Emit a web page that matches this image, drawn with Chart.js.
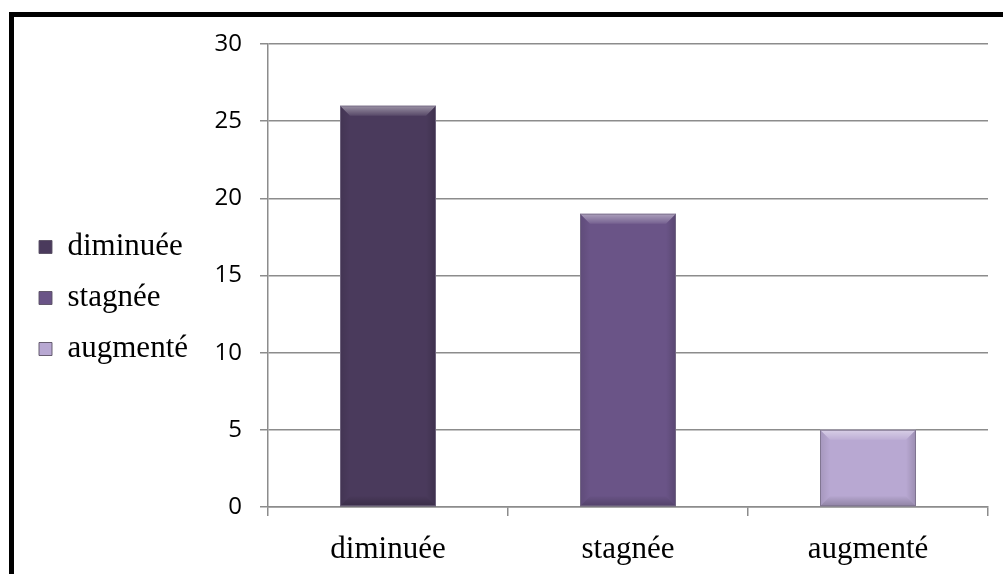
<!DOCTYPE html>
<html>
<head>
<meta charset="utf-8">
<script src="https://cdn.jsdelivr.net/npm/chart.js@4.4.1/dist/chart.umd.min.js"></script>
<style>
  html, body { margin: 0; padding: 0; background: #ffffff; }
  #wrap { position: relative; width: 1003px; height: 574px; overflow: hidden; }
  #frame { position: absolute; left: 9px; top: 12px; width: 1100px; height: 700px;
           border-left: 5px solid #000; border-top: 5px solid #000; box-sizing: border-box; }
  #chart { position: absolute; left: 0; top: 0; }
</style>
</head>
<body>
<div id="wrap">
  <div id="frame"></div>
  <canvas id="chart" width="1003" height="574"></canvas>
</div>
<script>
const categories = ['diminuée', 'stagnée', 'augmenté'];
const counts = [26, 19, 5];
const barColors = ['#4a3a5c', '#6a5487', '#b8a8d2'];
const yTicks = [0, 5, 10, 15, 20, 25, 30];

// soft bevelled faces on every bar
const bevelPlugin = {
  id: 'bevel',
  afterDatasetsDraw(chart) {
    const ctx = chart.ctx;
    const meta = chart.getDatasetMeta(0);
    meta.data.forEach((bar) => {
      const p = bar.getProps(['x', 'y', 'base', 'width'], true);
      const l = p.x - p.width / 2, r = p.x + p.width / 2;
      const t = Math.min(p.y, p.base), b = Math.max(p.y, p.base);
      const e = Math.min(10, (b - t) / 3);
      ctx.save();
      // top face
      let g = ctx.createLinearGradient(0, t, 0, t + e);
      g.addColorStop(0, 'rgba(255,255,255,0.45)');
      g.addColorStop(1, 'rgba(255,255,255,0.08)');
      ctx.fillStyle = g;
      ctx.beginPath();
      ctx.moveTo(l, t); ctx.lineTo(r, t); ctx.lineTo(r - e, t + e); ctx.lineTo(l + e, t + e); ctx.closePath();
      ctx.fill();
      // left face
      g = ctx.createLinearGradient(l, 0, l + e, 0);
      g.addColorStop(0, 'rgba(0,0,0,0.10)');
      g.addColorStop(1, 'rgba(0,0,0,0.0)');
      ctx.fillStyle = g;
      ctx.beginPath();
      ctx.moveTo(l, t); ctx.lineTo(l + e, t + e); ctx.lineTo(l + e, b - e); ctx.lineTo(l, b); ctx.closePath();
      ctx.fill();
      // right face
      g = ctx.createLinearGradient(r, 0, r - e, 0);
      g.addColorStop(0, 'rgba(0,0,0,0.16)');
      g.addColorStop(1, 'rgba(0,0,0,0.0)');
      ctx.fillStyle = g;
      ctx.beginPath();
      ctx.moveTo(r, t); ctx.lineTo(r - e, t + e); ctx.lineTo(r - e, b - e); ctx.lineTo(r, b); ctx.closePath();
      ctx.fill();
      // bottom face
      g = ctx.createLinearGradient(0, b, 0, b - e);
      g.addColorStop(0, 'rgba(0,0,0,0.22)');
      g.addColorStop(1, 'rgba(0,0,0,0.02)');
      ctx.fillStyle = g;
      ctx.beginPath();
      ctx.moveTo(l, b); ctx.lineTo(r, b); ctx.lineTo(r - e, b - e); ctx.lineTo(l + e, b - e); ctx.closePath();
      ctx.fill();
      // thin outline
      ctx.strokeStyle = 'rgba(120,110,135,0.8)';
      ctx.lineWidth = 1;
      ctx.strokeRect(l + 0.5, t + 0.5, r - l - 1, b - t - 1);
      ctx.restore();
    });
  }
};

const PAD_LEFT = 19;
const AXIS_X = 268;
const SERIF = '"Liberation Serif", "Times New Roman", serif';

new Chart(document.getElementById('chart'), {
  type: 'bar',
  data: {
    labels: categories,
    datasets: [{
      data: counts,
      backgroundColor: barColors,
      borderWidth: 0,
      categoryPercentage: 0.8,
      barPercentage: 0.5
    }]
  },
  options: {
    responsive: false,
    animation: false,
    devicePixelRatio: 1,
    layout: { padding: { left: PAD_LEFT, right: 15, top: 44, bottom: 0 } },
    plugins: {
      tooltip: { enabled: false },
      legend: {
        position: 'left',
        align: 'center',
        fullSize: false,
        title: { display: true, text: '', color: '#000', font: { size: 10 }, padding: { top: 0, bottom: 33 } },
        labels: {
          boxWidth: 13,
          boxHeight: 13,
          padding: 20,
          color: '#000',
          font: { family: SERIF, size: 31 },
          generateLabels: (chart) => categories.map((c, i) => ({
            text: c,
            fillStyle: barColors[i],
            strokeStyle: 'rgba(90,80,100,0.9)',
            fontColor: '#000',
            lineWidth: 1,
            hidden: false,
            index: i
          }))
        },
        onClick: () => {}
      }
    },
    scales: {
      x: {
        offset: true,
        grid: { offset: true, drawOnChartArea: false, drawTicks: true, tickLength: 9, color: '#8c8c8c', lineWidth: 1.5 },
        border: { color: '#8c8c8c', width: 1.5 },
        ticks: {
          color: '#000',
          padding: 15,
          font: { family: SERIF, size: 31 }
        },
        afterFit: (s) => { s.height = 574 - 507; }
      },
      y: {
        min: 0,
        max: 30,
        afterBuildTicks: (s) => { s.ticks = yTicks.map(v => ({ value: v })); },
        grid: { color: '#8c8c8c', lineWidth: 1.5, tickLength: 8 },
        border: { color: '#8c8c8c', width: 1.5 },
        ticks: {
          color: '#000',
          padding: 18,
          font: { family: '"Open Sans", sans-serif', size: 24 }
        },
        afterFit: (s) => { s.width = AXIS_X - PAD_LEFT - s.chart.legend.width; }
      }
    }
  },
  plugins: [bevelPlugin]
});
</script>
</body>
</html>
